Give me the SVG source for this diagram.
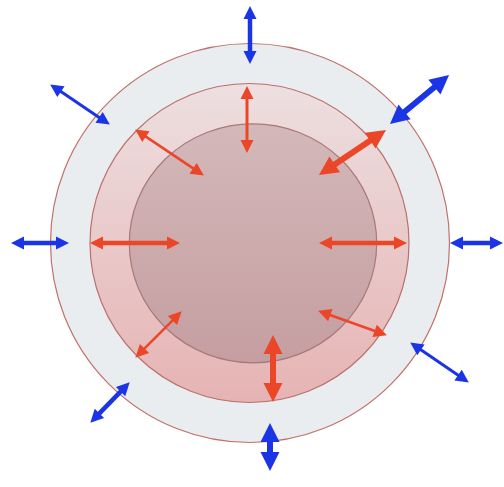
<svg xmlns="http://www.w3.org/2000/svg" width="504" height="487" viewBox="0 0 504 487">
<defs>
<linearGradient id="gMid" x1="0" y1="0" x2="0" y2="1">
<stop offset="0" stop-color="#eddfe0"/>
<stop offset="1" stop-color="#e6b3b3"/>
</linearGradient>
<linearGradient id="gIn" x1="0" y1="0" x2="0" y2="1">
<stop offset="0" stop-color="#d4b8b9"/>
<stop offset="1" stop-color="#c59ea1"/>
</linearGradient>
<marker id="hbt" markerUnits="userSpaceOnUse" markerWidth="15" markerHeight="15" viewBox="0 -7.5 14 15" refX="1" refY="0" orient="auto-start-reverse"><path d="M0,-6.5 L13,0 L0,6.5 Z" fill="#1b34e6"/></marker>
<marker id="hrt" markerUnits="userSpaceOnUse" markerWidth="15" markerHeight="15" viewBox="0 -7.5 14 15" refX="1" refY="0" orient="auto-start-reverse"><path d="M0,-6.5 L13,0 L0,6.5 Z" fill="#ec4628"/></marker>
<marker id="hbk" markerUnits="userSpaceOnUse" markerWidth="22" markerHeight="22" viewBox="0 -11 20 22" refX="1" refY="0" orient="auto-start-reverse"><path d="M0,-9.5 L19,0 L0,9.5 Z" fill="#1b34e6"/></marker>
<marker id="hrk" markerUnits="userSpaceOnUse" markerWidth="22" markerHeight="22" viewBox="0 -11 20 22" refX="1" refY="0" orient="auto-start-reverse"><path d="M0,-9.5 L19,0 L0,9.5 Z" fill="#ec4628"/></marker>
</defs>
<style>
.bt{stroke:#1b34e6;stroke-width:3;fill:none;marker-start:url(#hbt);marker-end:url(#hbt)}
.rt{stroke:#ec4628;stroke-width:3;fill:none;marker-start:url(#hrt);marker-end:url(#hrt)}
.bk{stroke:#1b34e6;stroke-width:6;fill:none;marker-start:url(#hbk);marker-end:url(#hbk)}
.rk{stroke:#ec4628;stroke-width:6;fill:none;marker-start:url(#hrk);marker-end:url(#hrk)}
.w{stroke-width:4.5}
.n{stroke-width:2.5}
</style>
<rect width="504" height="487" fill="#ffffff"/>
<g id="outer"><circle cx="250" cy="243" r="199.5" fill="#eaedf0" stroke="#c0706a" stroke-width="1.2"/></g>
<g id="middle"><circle cx="249.5" cy="243" r="159.5" fill="url(#gMid)" stroke="#b9716d" stroke-width="1.2"/></g>
<g id="inner"><ellipse cx="253" cy="243.3" rx="123.7" ry="119.5" fill="url(#gIn)" stroke="#a97878" stroke-width="1.2"/></g>
<g id="connectors">
<line class="bt w" x1="250" y1="18" x2="250" y2="52"/>
<line class="rt" x1="247" y1="98" x2="247" y2="141"/>
<line class="bt" x1="60.1" y1="91.1" x2="99.9" y2="117.9"/>
<line class="rt n" x1="145.1" y1="136.1" x2="193.9" y2="168.9"/>
<line class="bk" x1="403.8" y1="112.5" x2="435.2" y2="86.5"/>
<line class="rk" x1="333.9" y1="165" x2="371.1" y2="140"/>
<line class="bt w" x1="23" y1="243" x2="57" y2="243"/>
<line class="rt w" x1="102" y1="243" x2="168" y2="243"/>
<line class="rt w" x1="331" y1="243" x2="395" y2="243"/>
<line class="bt w" x1="462" y1="243" x2="491" y2="243"/>
<line class="rt n" x1="143.8" y1="349.2" x2="173.2" y2="319.8"/>
<line class="bt w" x1="98.7" y1="414.1" x2="121.3" y2="390.9"/>
<line class="rt n" x1="329.4" y1="314.7" x2="375.6" y2="331.3"/>
<line class="bt" x1="420.1" y1="349.2" x2="458.9" y2="375.8"/>
<line class="rk" x1="273" y1="353" x2="273" y2="384"/>
<line class="bk" x1="270" y1="441" x2="270" y2="453"/>
</g>
</svg>
